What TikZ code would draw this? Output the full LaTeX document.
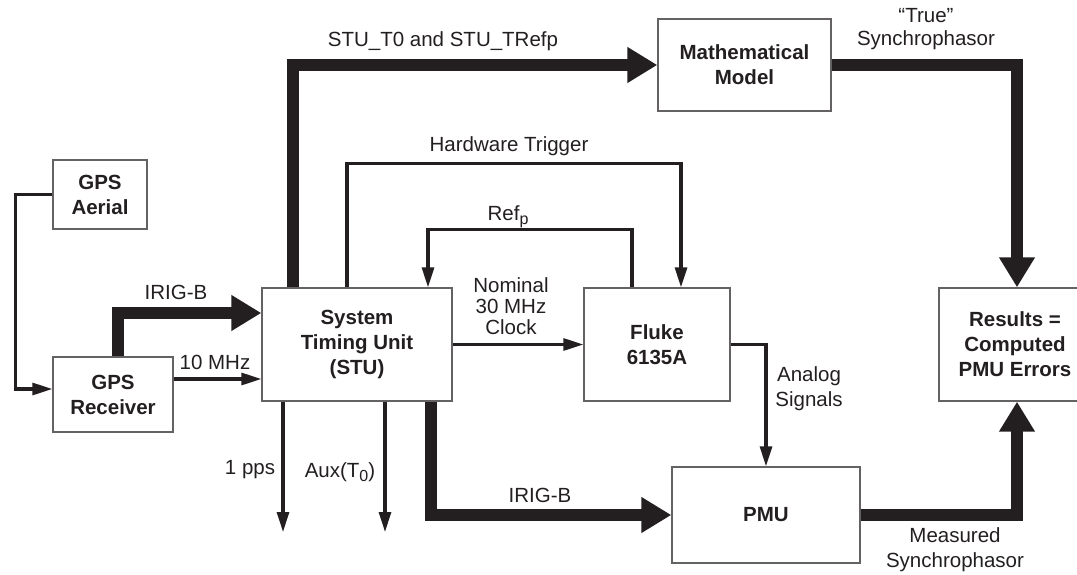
\documentclass[tikz,border=0pt]{standalone}
\usepackage{fontspec}
\setmainfont{Liberation Sans}
\usepackage{tikz}
\usetikzlibrary{arrows.meta}
\usepackage{xcolor}
\definecolor{ink}{HTML}{231F20}
\newcommand{\lowsub}[1]{\raisebox{-4.5pt}{\fontsize{16}{16}\selectfont #1}}

\begin{document}
\begin{tikzpicture}[x=1pt,y=-1pt]
		\tikzset{block/.style = {draw=ink!70,line width=1.4pt,text=ink,font=\fontsize{20.5}{25}\selectfont\bfseries,align=center,inner sep=0pt}}
		\tikzset{lbl/.style = {text=ink,font=\fontsize{20.5}{23}\selectfont,align=center,inner sep=0pt}}
		\tikzset{wire/.style = {draw=ink,line width=3.1pt,-{Triangle[length=20pt,width=12pt]}}}
		\tikzset{bus/.style = {draw=ink,line width=12pt,-{Triangle[length=30pt,width=34pt]}}}
		\useasboundingbox (0,0) rectangle (1077,575);
		\node[block,minimum width=94pt,minimum height=69pt] (aerial) at (100,194.5) {GPS\\Aerial};
		\node[block,minimum width=120pt,minimum height=75pt] (rx) at (113,394.5) {GPS\\Receiver};
		\node[block,minimum width=190pt,minimum height=113pt] (stu) at (357,344.5) {System\\Timing Unit\\(STU)};
		\node[block,minimum width=146pt,minimum height=113pt] (fluke) at (657,344.5) {Fluke\\6135A};
		\node[block,minimum width=173pt,minimum height=92pt] (model) at (744.5,65) {Mathematical\\Model};
		\node[block,minimum width=152pt,minimum height=113pt] (res) at (1015,344.5) {Results =\\Computed\\PMU Errors};
		\node[block,minimum width=188pt,minimum height=96pt] (pmu) at (766,515) {PMU};
		\coordinate (pps) at (283,532);
		\coordinate (aux) at (385,532);
		%labels
		\node[lbl] (irigtop) at (176,292) {IRIG-B};
		\node[lbl] (tenmhz) at (215,362) {10 MHz};
		\node[lbl] (stut) at (443,41) {STU\_T0 and STU\_TRefp};
		\node[lbl] (trig) at (509,146) {Hardware Trigger};
		\node[lbl,anchor=base] (refp) at (508,220) {Ref\lowsub{p}};
		\node[lbl,font=\fontsize{20.5}{21}\selectfont] (clk) at (511,306) {Nominal\\30 MHz\\Clock};
		\node[lbl] (truesp) at (926,29) {“True”\\Synchrophasor};
		\node[lbl,font=\fontsize{20.5}{25}\selectfont] (analog) at (809,389) {Analog\\Signals};
		\node[lbl,font=\fontsize{20.5}{25}\selectfont] (meas) at (955,550) {Measured\\Synchrophasor};
		\node[lbl] (ppslbl) at (250,470) {1 pps};
		\node[lbl,anchor=base] (auxlbl) at (340,477) {Aux(T\lowsub{0})};
		\node[lbl] (irigbot) at (540,495) {IRIG-B};
		%edges
		\draw[wire] (aerial.west) -- ++(-37,0) |- ([yshift=5.5pt]rx.west);
		\draw[bus] ([xshift=5pt]rx.north) |- ([yshift=31.5pt]stu.west);
		\draw[wire] ([yshift=15.5pt]rx.east) -- ([yshift=-34.5pt]stu.west);
		\draw[bus] ([xshift=-64pt]stu.north) |- (model.west);
		\draw[wire] ([xshift=-10pt]stu.north) -- ++(0,-124) -| ([xshift=24pt]fluke.north);
		\draw[wire] ([xshift=-25pt]fluke.north) -- ++(0,-58) -| ([xshift=71pt]stu.north);
		\draw[wire] (stu.east) -- (fluke.west);
		\draw[bus] (model.east) -| ([xshift=2pt]res.north);
		\draw[wire] (fluke.east) -| (pmu.north);
		\draw[bus] (pmu.east) -| ([xshift=2pt]res.south);
		\draw[wire] ([xshift=-74pt]stu.south) -- (pps);
		\draw[wire] ([xshift=28pt]stu.south) -- (aux);
		\draw[bus] ([xshift=74pt]stu.south) |- (pmu.west);
		\end{tikzpicture}
\end{document}
